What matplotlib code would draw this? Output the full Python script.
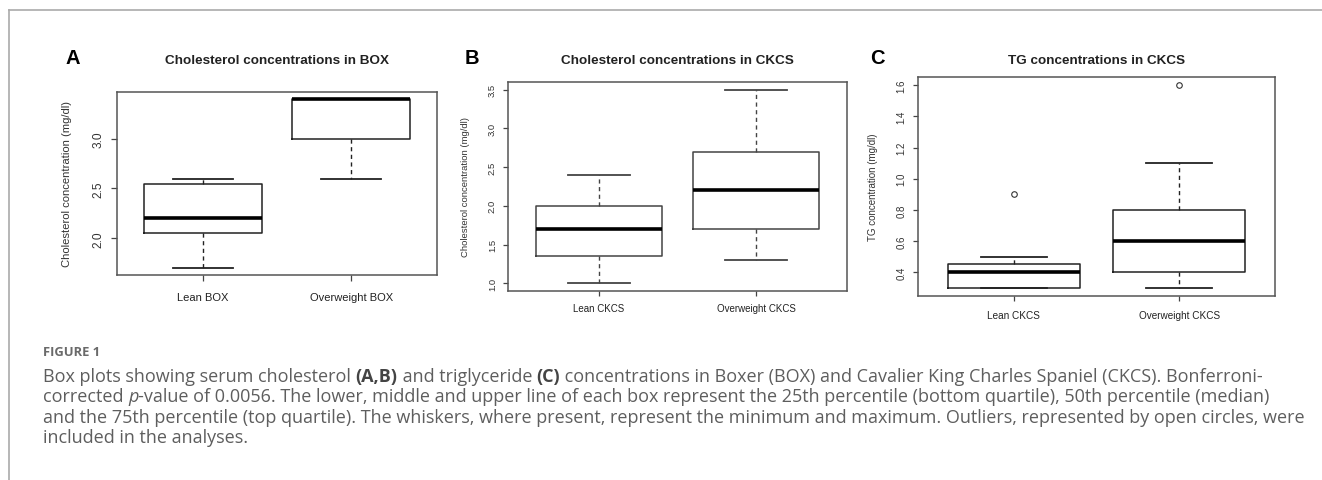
import matplotlib
matplotlib.use("Agg")
import matplotlib.pyplot as plt
from matplotlib.lines import Line2D

plt.rcParams['font.family'] = ['Liberation Sans', 'DejaVu Sans']

# ---------------- data ----------------
groups_box = ["Lean BOX", "Overweight BOX"]
groups_ckcs = ["Lean CKCS", "Overweight CKCS"]

# five-number summaries: whislo, q1, med, q3, whishi
chol_box_lo = [1.7, 2.6]
chol_box_q1 = [2.05, 3.0]
chol_box_med = [2.2, 3.4]
chol_box_q3 = [2.55, 3.4]
chol_box_hi = [2.6, 3.4]
chol_box_out = [[], []]

chol_ckcs_lo = [1.0, 1.3]
chol_ckcs_q1 = [1.35, 1.7]
chol_ckcs_med = [1.7, 2.2]
chol_ckcs_q3 = [2.0, 2.7]
chol_ckcs_hi = [2.4, 3.5]
chol_ckcs_out = [[], []]

tg_ckcs_lo = [0.3, 0.3]
tg_ckcs_q1 = [0.3, 0.4]
tg_ckcs_med = [0.4, 0.6]
tg_ckcs_q3 = [0.45, 0.8]
tg_ckcs_hi = [0.5, 1.1]
tg_ckcs_out = [[0.9], [1.6]]

ticks_A = [2.0, 2.5, 3.0]
ticks_B = [1.0, 1.5, 2.0, 2.5, 3.0, 3.5]
ticks_C = [0.4, 0.6, 0.8, 1.0, 1.2, 1.4, 1.6]

W, H = 1322, 481
fig = plt.figure(figsize=(W / 100, H / 100), dpi=100)


def px_axes(l, t, r, b):
    return fig.add_axes([l / W, (H - b) / H, (r - l) / W, (b - t) / H])


def stats(lo, q1, med, q3, hi, out):
    return [dict(whislo=lo[i], q1=q1[i], med=med[i], q3=q3[i], whishi=hi[i],
                 fliers=out[i]) for i in range(len(lo))]


def panel(rect, st, labels, ticks, title, letter, letter_x, ylabel,
          tick_fs, lab_fs, ylab_fs, lc, xpad, ypad, ticklen):
    ax = px_axes(*rect)
    ax.bxp(st, positions=[1, 2], widths=0.8, capwidths=0.4,
           patch_artist=False,
           boxprops=dict(color=lc, lw=1.1),
           medianprops=dict(color='black', lw=2.6, solid_capstyle='butt'),
           whiskerprops=dict(color=lc, lw=1.0, linestyle=(0, (3, 2.5))),
           capprops=dict(color=lc, lw=1.3),
           flierprops=dict(marker='o', markersize=4.0, markerfacecolor='none',
                           markeredgecolor='#333', markeredgewidth=0.8))
    allv = [v for s in st for v in [s['whislo'], s['whishi']] + list(s['fliers'])]
    lo, hi = min(allv), max(allv)
    pad = 0.04 * (hi - lo)
    ax.set_ylim(lo - pad, hi + pad)
    ax.set_xlim(0.42, 2.58)
    ax.set_xticks([1, 2])
    ax.set_xticklabels(labels, fontsize=lab_fs, color='#222')
    ax.set_yticks(ticks)
    ax.set_yticklabels([f"{t:.1f}" for t in ticks], rotation=90,
                       va='center', fontsize=tick_fs, color='#333')
    ax.tick_params(axis='y', length=ticklen, width=0.9, color='#444', pad=ypad)
    ax.tick_params(axis='x', length=ticklen, width=0.9, color='#444', pad=xpad)
    for s in ax.spines.values():
        s.set_color('#555')
        s.set_linewidth(1.1)
    ax.set_ylabel(ylabel, fontsize=ylab_fs, color='#333')
    l, t, r, b = rect
    fig.text(((l + r) / 2) / W, 1 - 61 / H, title, ha='center', va='center',
             fontsize=9.7, fontweight='bold', color='#222')
    fig.text(letter_x / W, 1 - 58 / H, letter, ha='left', va='center',
             fontsize=14.5, fontweight='bold', color='black')
    return ax


axA = panel((117, 93, 437, 276),
            stats(chol_box_lo, chol_box_q1, chol_box_med, chol_box_q3, chol_box_hi, chol_box_out),
            groups_box, ticks_A, "Cholesterol concentrations in BOX", "A", 66,
            "Cholesterol concentration (mg/dl)", 8.6, 8.0, 8.1, '#222', 8, 5.0, 4.3)
axA.yaxis.set_label_coords((72 - 117) / 320, 0.5)

axB = panel((508, 83, 847, 292),
            stats(chol_ckcs_lo, chol_ckcs_q1, chol_ckcs_med, chol_ckcs_q3, chol_ckcs_hi, chol_ckcs_out),
            groups_ckcs, ticks_B, "Cholesterol concentrations in CKCS", "B", 465,
            "Cholesterol concentration (mg/dl)", 6.8, 7.0, 6.8, '#444', 5.5, 4.5, 3.5)
axB.yaxis.set_label_coords((470 - 508) / 339, 0.5)

axC = panel((918, 78, 1275, 297),
            stats(tg_ckcs_lo, tg_ckcs_q1, tg_ckcs_med, tg_ckcs_q3, tg_ckcs_hi, tg_ckcs_out),
            groups_ckcs, ticks_C, "TG concentrations in CKCS", "C", 870,
            "TG concentration (mg/dl)", 7.0, 7.2, 7.0, '#222', 6.5, 4.5, 3.8)
axC.yaxis.set_label_coords((878 - 918) / 357, 0.5)

# ---------------- frame ----------------
fig.add_artist(Line2D([9 / W, 1.0], [1 - 11 / H, 1 - 11 / H], transform=fig.transFigure,
                      color='#aaaaaa', lw=1.2))
fig.add_artist(Line2D([9 / W, 9 / W], [1 - 11 / H, 0], transform=fig.transFigure,
                      color='#aaaaaa', lw=1.2))

# ---------------- caption ----------------
cap_font = ['Open Sans', 'DejaVu Sans']
cap_color = '#5e5e5e'
fig.text(43 / W, 1 - 353 / H, "FIGURE 1", ha='left', va='center',
         fontsize=9.4, fontweight='bold', color='#6a6a6a', family=cap_font)

caption_lines = [
    [("Box plots showing serum cholesterol ", 'normal', 'normal'), ("(A,B)", 'bold', 'normal'),
     (" and triglyceride ", 'normal', 'normal'), ("(C)", 'bold', 'normal'),
     (" concentrations in Boxer (BOX) and Cavalier King Charles Spaniel (CKCS). Bonferroni-", 'normal', 'normal')],
    [("corrected ", 'normal', 'normal'), ("p", 'normal', 'italic'),
     ("-value of 0.0056. The lower, middle and upper line of each box represent the 25th percentile (bottom quartile), 50th percentile (median)", 'normal', 'normal')],
    [("and the 75th percentile (top quartile). The whiskers, where present, represent the minimum and maximum. Outliers, represented by open circles, were", 'normal', 'normal')],
    [("included in the analyses.", 'normal', 'normal')],
]
line_y = [377, 397.5, 418, 438.5]

renderer = fig.canvas.get_renderer()


def draw_line(segs, x0, y, fs, draw=True):
    x = x0
    for txt, wt, st in segs:
        t = fig.text(x / W, 1 - y / H, txt, ha='left', va='center', fontsize=fs,
                     fontweight=wt, fontstyle=st, color=cap_color if wt == 'normal' else '#444',
                     family=cap_font)
        bb = t.get_window_extent(renderer)
        x += bb.width
        if not draw:
            t.remove()
    return x - x0


w10 = draw_line(caption_lines[0], 43, line_y[0], 10, draw=False)
cap_fs = 10 * (1262 - 43) / w10
for segs, y in zip(caption_lines, line_y):
    draw_line(segs, 43, y, cap_fs)

fig.savefig("out.png", dpi=100)
